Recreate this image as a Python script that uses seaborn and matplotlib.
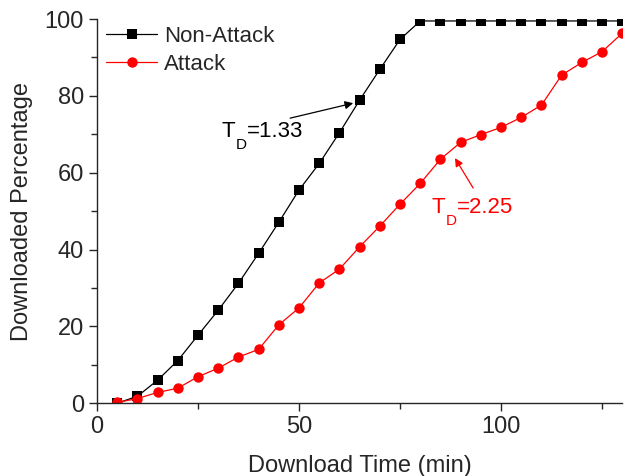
import numpy as np
import pandas as pd
import seaborn as sns
import matplotlib.pyplot as plt

# data
time_min = [5, 10, 15, 20, 25, 30, 35, 40, 45, 50, 55, 60, 65, 70, 75, 80,
            85, 90, 95, 100, 105, 110, 115, 120, 125, 130]
non_attack = [0, 1.8, 6, 11.1, 17.7, 24.2, 31.2, 39, 47.1, 55.5, 62.4, 70.4, 78.9,
              86.9, 94.7, 99.5, 99.5, 99.5, 99.5, 99.5, 99.5, 99.5, 99.5, 99.5, 99.5, 99.5]
attack = [0.2, 1.2, 2.8, 3.9, 6.9, 9.1, 12, 14, 20.4, 24.8, 31.3, 34.9, 40.7,
          46.1, 51.8, 57.2, 63.5, 67.9, 69.9, 71.8, 74.4, 77.6, 85.4, 88.7, 91.5, 96.3]

df = pd.DataFrame({'time': time_min * 2,
                   'pct': non_attack + attack,
                   'series': ['Non-Attack'] * len(time_min) + ['Attack'] * len(time_min)})

sns.set_style('ticks')
plt.rcParams['font.family'] = ['Liberation Sans', 'DejaVu Sans']

fig = plt.figure(figsize=(6.26, 4.76), dpi=100)
ax = fig.add_axes([0.155, 0.153, 0.839, 0.807])

sns.lineplot(data=df, x='time', y='pct', hue='series', style='series',
             palette={'Non-Attack': 'black', 'Attack': 'red'},
             markers={'Non-Attack': 's', 'Attack': 'o'},
             dashes=False, linewidth=0.9, markeredgewidth=0,
             ax=ax)
for line in ax.lines:
    if line.get_marker() == 's':
        line.set_markersize(6.5)
    else:
        line.set_markersize(7.5)

ax.set_xlim(0, 130)
ax.set_ylim(0, 100)
ax.set_xticks([0, 50, 100])
ax.set_xticks([25, 75, 125], minor=True)
ax.set_yticks([0, 20, 40, 60, 80, 100])
ax.set_yticks([10, 30, 50, 70, 90], minor=True)
ax.tick_params(axis='both', which='both', direction='out', labelsize=17, width=1)
ax.tick_params(axis='both', which='major', length=6)
ax.tick_params(axis='both', which='minor', length=4)
ax.spines['top'].set_visible(False)
ax.spines['right'].set_visible(False)
ax.spines['left'].set_linewidth(1)
ax.spines['bottom'].set_linewidth(1)

ax.set_xlabel('Download Time (min)', fontsize=17, labelpad=12)
ax.set_ylabel('Downloaded Percentage', fontsize=17, labelpad=8)

leg = ax.legend(loc='upper left', bbox_to_anchor=(-0.008, 1.016), frameon=False,
                fontsize=16, title=None, handlelength=2.3, borderaxespad=0.2,
                labelspacing=0.3, handletextpad=0.3)


def td_label(x, y, value, color):
    # T with a low subscript D, then the value on T's baseline
    t = ax.text(x, y, 'T', fontsize=16, color=color, va='baseline', ha='left')
    d = ax.annotate('D', xy=(1, 0), xycoords=t, xytext=(0, 3),
                    textcoords='offset points', fontsize=11, color=color,
                    va='top', ha='left')
    ax.annotate('=' + value, xy=(1, 0), xycoords=(d, t), fontsize=16,
                color=color, va='bottom', ha='left')


td_label(30.9, 69.3, '1.33', 'black')
td_label(82.9, 49.5, '2.25', 'red')

ax.annotate('', xy=(63.4, 78.1), xytext=(47.8, 74.2),
            arrowprops=dict(arrowstyle='-|>', color='black', lw=0.9,
                            mutation_scale=12, shrinkA=0, shrinkB=0))
ax.annotate('', xy=(88.6, 63.8), xytext=(93.1, 56),
            arrowprops=dict(arrowstyle='-|>', color='red', lw=0.9,
                            mutation_scale=12, shrinkA=0, shrinkB=0))

fig.savefig('out.png', dpi=100)
